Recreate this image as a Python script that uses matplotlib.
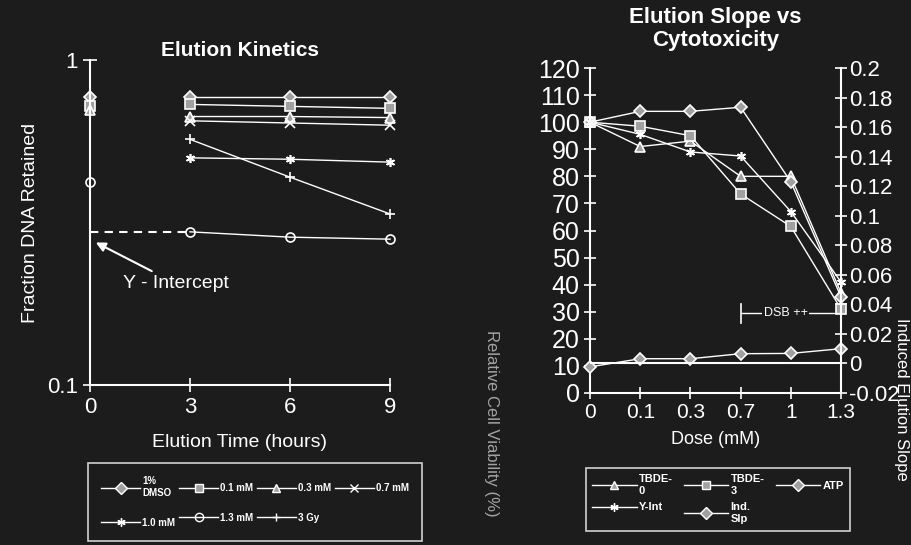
import matplotlib
matplotlib.use("Agg")
import matplotlib.pyplot as plt
import numpy as np
from matplotlib.lines import Line2D

plt.rcParams["font.family"] = ["Liberation Sans", "DejaVu Sans"]

# ---------------- data: left panel (Elution Kinetics) ----------------
times = [0, 3, 6, 9]
kin_labels = ["1%\nDMSO", "0.1 mM", "0.3 mM", "0.7 mM", "1.0 mM", "1.3 mM", "3 Gy"]
dmso   = [0.77, 0.77, 0.77, 0.77]
mm01   = [0.72, 0.73, 0.72, 0.71]
mm03   = [0.70, 0.67, 0.67, 0.665]
mm07   = [np.nan, 0.65, 0.64, 0.63]
mm10   = [np.nan, 0.50, 0.495, 0.485]
mm13   = [0.42, 0.296, 0.285, 0.281]
gy3    = [np.nan, 0.57, 0.436, 0.336]
y_intercept = 0.296
kin_series = [dmso, mm01, mm03, mm07, mm10, mm13, gy3]

# ---------------- data: right panel (Elution Slope vs Cytotoxicity) ----------------
doses = ["0", "0.1", "0.3", "0.7", "1", "1.3"]
tbde0 = [100, 91, 93, 80, 80, 37]
tbde3 = [100, 98.5, 95, 73.5, 61.5, 31]
atp   = [100, 104, 104, 105.5, 78, 35.5]
yint  = [100, 95.5, 89, 87.5, 67, 41]
indslp = [-0.0023, 0.0032, 0.0032, 0.0066, 0.0068, 0.010]
left_ticks = list(range(0, 121, 10))
right_ticks = [-0.02, 0, 0.02, 0.04, 0.06, 0.08, 0.1, 0.12, 0.14, 0.16, 0.18, 0.2]
right_ticklabels = ["-0.02", "0", "0.02", "0.04", "0.06", "0.08", "0.1",
                    "0.12", "0.14", "0.16", "0.18", "0.2"]

BG = "#1c1c1c"
FG = "white"
MFC = "#a0a0a0"

fig = plt.figure(figsize=(9.12, 5.45), dpi=100, facecolor=BG)

# ---------------- left panel ----------------
ax = fig.add_axes([90/912, 1-385/545, 300/912, 325/545], facecolor=BG)
ax.set_yscale("log")
ax.set_ylim(0.1, 1)
ax.set_xlim(0, 9)
kin_markers = ["D", "s", "^", "x", (6, 2, 0), "o", "+"]
handles = []
for vals, lab, mk in zip(kin_series, kin_labels, kin_markers):
    mfc = "none" if mk == "o" else MFC
    ax.plot(times[1:], vals[1:], color=FG, lw=1.0, marker=mk, ms=6.5,
            mfc=mfc, mec=FG, mew=1.2, clip_on=False)
    ax.plot(times[:1], vals[:1], ls="none", marker=mk, ms=6.5, mfc=mfc,
            mec=FG, mew=1.2, clip_on=False)
    handles.append(Line2D([], [], color=FG, lw=1.0, marker=mk, ms=6,
                          mfc=mfc, mec=FG, mew=1.0, label=lab))
ax.plot([0, 3], [y_intercept, y_intercept], color=FG, lw=1.5, ls=(0, (4, 3)))
ax.annotate("Y - Intercept", xy=(0.1, 0.277), xytext=(1.0, 0.205),
            color=FG, fontsize=14, va="center", ha="left",
            arrowprops=dict(arrowstyle="-|>", color=FG, lw=1.5))

for s in ["top", "right"]:
    ax.spines[s].set_visible(False)
for s in ["left", "bottom"]:
    ax.spines[s].set_color(FG)
    ax.spines[s].set_linewidth(1.5)
ax.set_xticks([0, 3, 6, 9])
ax.set_xticklabels(["0", "3", "6", "9"])
ax.set_yticks([0.1, 1])
ax.set_yticklabels(["0.1", "1"])
ax.yaxis.set_minor_locator(matplotlib.ticker.NullLocator())
ax.tick_params(colors=FG, labelsize=16, direction="inout", length=10, width=1.2)
ax.set_xlabel("Elution Time (hours)", color=FG, fontsize=14, labelpad=12)
ax.set_ylabel("Fraction DNA Retained", color=FG, fontsize=14, labelpad=6)
ax.set_title("Elution Kinetics", color=FG, fontsize=15, fontweight="bold", pad=2)

order = [0, 4, 1, 5, 2, 6, 3]
leg = fig.legend([handles[i] for i in order], [kin_labels[i] for i in order],
                 ncol=4, loc="upper left", bbox_to_anchor=(83/912, 1-458/545),
                 frameon=True, facecolor=BG, edgecolor=FG,
                 prop={"weight": "bold", "size": 7}, labelcolor=FG,
                 handlelength=4.0, columnspacing=0.4, handletextpad=0.2,
                 borderpad=1.4, labelspacing=2.0, fancybox=False)
leg.get_frame().set_linewidth(1.2)

# ---------------- right panel ----------------
ax2 = fig.add_axes([590/912, 1-393/545, 251/912, 325/545], facecolor=BG)
x = np.arange(len(doses))
ax2.set_xlim(0, len(doses) - 1)
ax2.set_ylim(0, 120)
right_handles = []
for vals, lab, mk in [(tbde0, "TBDE-\n0", "^"), (tbde3, "TBDE-\n3", "s"),
                      (atp, "ATP", "D"), (yint, "Y-Int", (6, 2, 0))]:
    ax2.plot(x, vals, color=FG, lw=1.0, marker=mk, ms=6.5, mfc=MFC, mec=FG,
             mew=1.2, clip_on=False)
    right_handles.append(Line2D([], [], color=FG, lw=1.0, marker=mk, ms=6,
                                mfc=MFC, mec=FG, label=lab))
ax2.set_xticks(x)
ax2.set_xticklabels(doses)
ax2.set_yticks(left_ticks)
for s in ["top", "right"]:
    ax2.spines[s].set_visible(False)
for s in ["left", "bottom"]:
    ax2.spines[s].set_color(FG)
    ax2.spines[s].set_linewidth(1.5)
ax2.tick_params(axis="y", colors=FG, labelsize=18, direction="inout", length=8,
                width=1.2)
ax2.tick_params(axis="x", colors=FG, labelsize=15, direction="inout", length=8,
                width=1.2)
ax2.set_xlabel("Dose (mM)", color=FG, fontsize=13, labelpad=6)
ax2.set_title("Elution Slope vs\nCytotoxicity", color=FG, fontsize=16,
              fontweight="bold", pad=16, linespacing=1.1)

ax3 = ax2.twinx()
ax3.set_ylim(-0.02, 0.2)
ax3.plot(x, indslp, color=FG, lw=1.0, marker="D", ms=6.5, mfc=MFC, mec=FG,
         mew=1.2, clip_on=False)
ax3.plot([x[0], x[-1]], [0, 0], color=FG, lw=1.5)
right_handles.append(Line2D([], [], color=FG, lw=1.0, marker="D", ms=6,
                            mfc=MFC, mec=FG, label="Ind.\nSlp"))
ax3.set_yticks(right_ticks)
ax3.set_yticklabels(right_ticklabels)
for s in ["top", "left", "bottom"]:
    ax3.spines[s].set_visible(False)
ax3.spines["right"].set_color(FG)
ax3.spines["right"].set_linewidth(1.5)
ax3.tick_params(colors=FG, labelsize=16, direction="inout", length=8, width=1.2,
                pad=2)

# DSB ++ marker
ax2.plot([3, 3], [26, 33], color=FG, lw=1.2)
ax2.plot([3, 5], [29.5, 29.5], color=FG, lw=1.0)
ax2.text(3.9, 29.5, "DSB ++", color=FG, fontsize=9, ha="center", va="center",
         bbox=dict(facecolor=BG, edgecolor="none", pad=1))

fig.text(492/912, 1-330/545, "Relative Cell Viability (%)", color=FG,
         fontsize=12, rotation=-90, ha="center", va="top", alpha=0.6)
fig.text(902/912, 1-318/545, "Induced Elution Slope", color=FG,
         fontsize=12, rotation=-90, ha="center", va="top")

rorder = [0, 3, 1, 4, 2]
rl = [right_handles[i] for i in rorder]
leg2 = fig.legend(rl, [h.get_label() for h in rl], ncol=3, loc="upper left",
                  bbox_to_anchor=(580/912, 1-462/545), frameon=True,
                  facecolor=BG, edgecolor=FG,
                  prop={"weight": "bold", "size": 8}, labelcolor=FG,
                  handlelength=4.0, columnspacing=1.0, handletextpad=0.2,
                  borderpad=0.6, labelspacing=0.6, fancybox=False)
leg2.get_frame().set_linewidth(1.2)

fig.savefig("out.png", dpi=100, facecolor=BG)
